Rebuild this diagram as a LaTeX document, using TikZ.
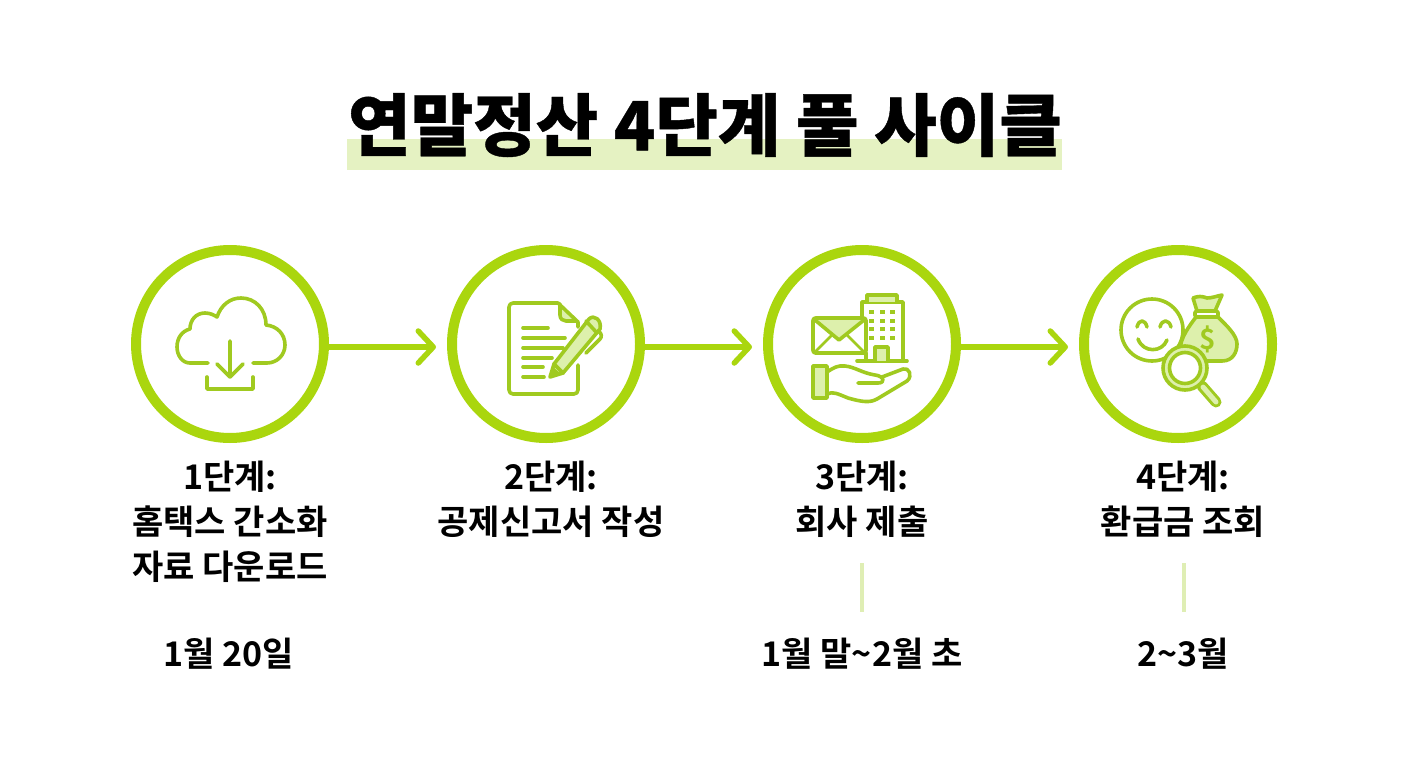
\documentclass[tikz,border=0pt]{standalone}
\usepackage{fontspec}
\usetikzlibrary{arrows.meta,calc}
\newfontfamily\krbold{Noto Sans CJK KR Bold}
\newfontfamily\krblack{Noto Sans CJK KR Black}[FakeBold=0.6]
\definecolor{ringc}{HTML}{AAD60E}
\definecolor{iconc}{HTML}{A0CA20}
\definecolor{lightc}{HTML}{DDF0AC}
\definecolor{bandc}{HTML}{E5F2C2}
\definecolor{tickc}{HTML}{DFEEB4}
\tikzset{
 ring/.style={circle,draw=ringc,line width=10pt,minimum size=188pt,inner sep=0pt,fill=white},
 flow/.style={draw=ringc,line width=5.5pt,shorten >=11pt,-{Straight Barb[length=15pt,width=32pt,line width=5.5pt,round]}},
 ico/.style={draw=iconc,line width=3.6pt,line cap=round,line join=round},
 icof/.style={ico,fill=lightc},
 thin ico/.style={draw=iconc,line width=2.8pt,line cap=round,line join=round},
 lab/.style={font=\krbold\fontsize{34}{40}\selectfont,text=black,align=center,inner sep=0pt},
 date/.style={font=\krbold\fontsize{34}{40}\selectfont,text=black,inner sep=0pt},
 tick/.style={draw=tickc,line width=4pt},
}
\begin{document}
\begin{tikzpicture}[x=1pt,y=-1pt]
\useasboundingbox (0,0) rectangle (1408,768);
\fill[white] (0,0) rectangle (1408,768);
% title
\fill[bandc] (347,139) rectangle (1062,170);
\node[font=\krblack\fontsize{68}{70}\selectfont,inner sep=0pt] (title) at (705,125) {연말정산 4단계 풀 사이클};
% rings
\node[ring] (c1) at (230,344) {};
\node[ring] (c2) at (546,344) {};
\node[ring] (c3) at (862,344) {};
\node[ring] (c4) at (1178,344) {};
\draw[flow] ($(c1.east)+(0,3)$) -- ($(c2.west)+(0,3)$);
\draw[flow] ($(c2.east)+(0,3)$) -- ($(c3.west)+(0,3)$);
\draw[flow] ($(c3.east)+(0,3)$) -- ($(c4.west)+(0,3)$);
% icon 1 cloud
\draw[ico] (208,363) -- (190,363) .. controls (182,363) and (177,355) .. (177,347) .. controls (177,338) and (182,331) .. (190,329) .. controls (190,320) and (196,313) .. (205,313) .. controls (210,313) and (214,315) .. (217,317) .. controls (221,305) and (230,298) .. (241,298) .. controls (255,298) and (266,309) .. (266,325) .. controls (277,326) and (285,334) .. (285,345) .. controls (285,355) and (277,363) .. (267,363) -- (253,363);
\draw[ico] (230,341) -- (230,377) (217,364) -- (230,377) -- (243,364);
\draw[ico] (207,377) -- (207,389) -- (253,389) -- (253,377);
% icon 2 document
\fill[lightc] (560,304) -- (577,321) -- (565,321) -- (560,316) -- cycle;
\draw[ico,rounded corners=4pt] (578,365) -- (578,394) -- (509,394) -- (509,303) -- (558,303);
\draw[ico] (558,303) -- (578,322) -- (578,327);
\draw[ico] (560,304) -- (560,315) .. controls (560,319) and (563,321) .. (566,321) -- (576,321);
\foreach \yy/\xe in {328/548,338/565,348/563,358/552,367/543,377/544} \draw[ico] (523,\yy) -- (\xe,\yy);
\draw[icof] (550,377) -- (554,364) -- (589,319) .. controls (594,314) and (602,320) .. (600,329) -- (563,373) -- cycle;
\fill[iconc] (550,377) -- (553,367) -- (560,373) -- cycle;
\draw[ico] (554,364) -- (563,373);
\draw[ico] (586,321) -- (597,333);
\draw[ico] (598,331) .. controls (602,333) and (602,337) .. (600,339) -- (586,353);
% icon 3 building behind
\draw[ico] (862,317) -- (862,302) -- (903,302) -- (903,361);
\draw[ico,fill=lightc] (867,302) -- (867,295) -- (897,295) -- (897,302);
\foreach \xx in {871,882,892} \foreach \yy in {312,321,329,338} \fill[iconc] (\xx-2.5,\yy-2) rectangle (\xx+2.5,\yy+2);
\draw[ico] (857,361) -- (907,361);
\draw[icof] (875,361) -- (875,347) -- (888,347) -- (888,361);
\draw[ico] (866,353) -- (866,361);
% envelope
\draw[ico,fill=white,rounded corners=2.5pt] (813,318) rectangle (866,353);
\draw[ico,fill=lightc] (815,320) -- (839,340) -- (864,320);
\draw[thin ico] (815,352) -- (832,335) (864,352) -- (847,335);
% hand
\draw[icof] (813,366) rectangle (827,398);
\draw[ico] (827,372) .. controls (833,368) and (838,365) .. (845,366) .. controls (855,367) and (862,373) .. (875,375) .. controls (884,376) and (886,383) .. (878,383) -- (858,383);
\draw[ico] (882,377) -- (903,369) .. controls (909,367) and (913,376) .. (907,381) -- (877,399) .. controls (870,403) and (862,402) .. (848,398) .. controls (838,394) and (833,391) .. (827,394);
% icon 4 bag
\draw[icof] (1196,317) .. controls (1190,325) and (1180,338) .. (1180,350) .. controls (1180,358) and (1190,362) .. (1203,361) -- (1222,361) .. controls (1233,361) and (1237,352) .. (1237,344) .. controls (1237,335) and (1226,325) .. (1218,317) -- cycle;
\draw[ico,fill=lightc] (1197,311) -- (1193,298) .. controls (1198,296) and (1202,296) .. (1207,298) .. controls (1212,298) and (1217,296) .. (1222,295) -- (1215,311);
\draw[ico,fill=white,rounded corners=1.5pt] (1195,311) rectangle (1218,317);
\node[font=\krbold\fontsize{28}{28}\selectfont,text=iconc,inner sep=0pt] (dollar) at (1208,339) {\$};
% smiley
\node[circle,draw=iconc,line width=3.6pt,fill=white,minimum size=62pt,inner sep=0pt] (smile) at (1152,330) {};
\draw[ico] (1137,327) .. controls (1139,319) and (1145,319) .. (1147,327);
\draw[ico] (1160,327) .. controls (1162,319) and (1169,319) .. (1171,327);
\draw[ico] (1138,339) .. controls (1143,353) and (1162,353) .. (1167,340);
% magnifier
\draw[draw=iconc,line width=11pt,line cap=round] (1202,386) -- (1216,402);
\draw[draw=lightc,line width=5pt,line cap=round] (1203,387) -- (1216,402);
\node[circle,draw=iconc,line width=3.6pt,fill=lightc,minimum size=44pt,inner sep=0pt] (lensout) at (1185,368) {};
\node[circle,draw=iconc,line width=3.6pt,fill=white,minimum size=31pt,inner sep=0pt] (lensin) at (1185,368) {};
% labels
\node[lab] (l1a) at (230,477) {1단계:};
\node[lab] (l1b) at (230,522) {홈택스 간소화};
\node[lab] (l1c) at (230,567) {자료 다운로드};
\node[date] (d1) at (229,654) {1월 20일};
\node[lab] (l2a) at (551,477) {2단계:};
\node[lab] (l2b) at (551,522) {공제신고서 작성};
\node[lab] (l3a) at (862,477) {3단계:};
\node[lab] (l3b) at (862,522) {회사 제출};
\node[date] (d3) at (862,654) {1월 말\textasciitilde 2월 초};
\node[lab] (l4a) at (1183,477) {4단계:};
\node[lab] (l4b) at (1183,522) {환급금 조회};
\node[date] (d4) at (1183,654) {2\textasciitilde 3월};
\coordinate (t3a) at (862,563);
\coordinate (t3b) at (862,612);
\coordinate (t4a) at (1184,563);
\coordinate (t4b) at (1184,612);
\draw[tick] (t3a) -- (t3b);
\draw[tick] (t4a) -- (t4b);
\end{tikzpicture}
\end{document}
